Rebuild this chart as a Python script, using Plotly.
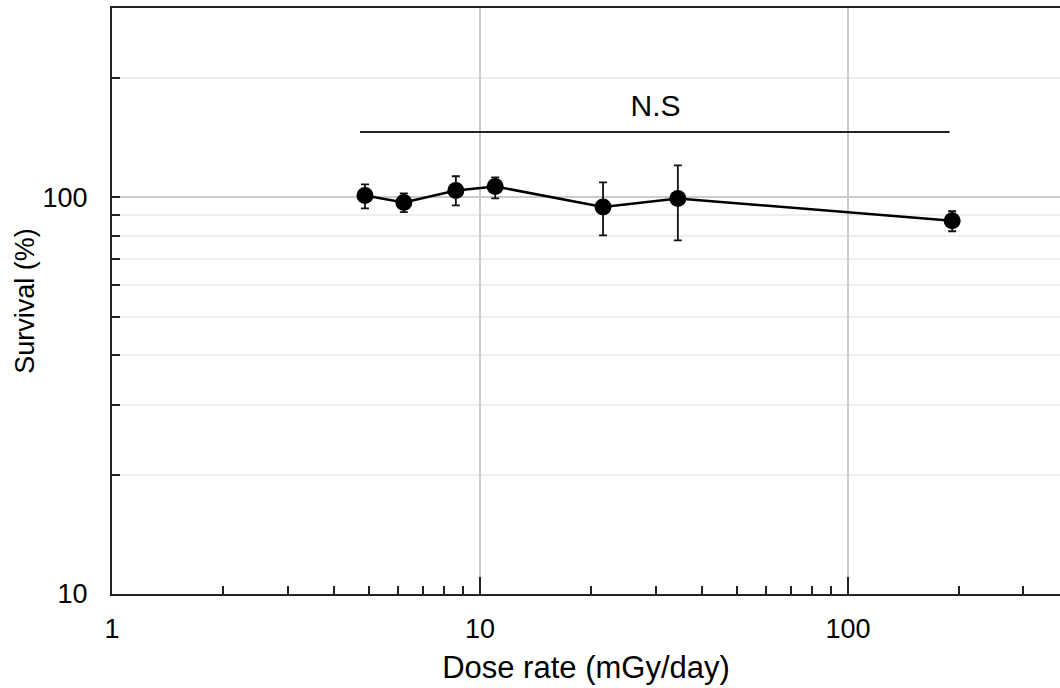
import numpy as np
import plotly.graph_objects as go

dose_rate = [4.87, 6.21, 8.6, 11.0, 21.6, 34.5, 192]
survival = [101.0, 97.0, 104.0, 106.5, 94.5, 99.3, 87.3]
err_upper = [107.8, 102.3, 113.0, 112.3, 109.0, 120.4, 92.2]
err_lower = [93.8, 91.7, 95.4, 99.4, 80.2, 77.9, 82.1]

ns_x = [4.72, 189]
ns_y = [146, 146]
ns_label = "N.S"
ns_label_x = 30
ns_label_y = 167

plus = [u - s for u, s in zip(err_upper, survival)]
minus = [s - l for s, l in zip(survival, err_lower)]

font_family = "Liberation Sans, Arial, sans-serif"

fig = go.Figure()
fig.add_trace(go.Scatter(
    x=dose_rate, y=survival, mode="lines+markers",
    line=dict(color="black", width=2.5),
    marker=dict(color="black", size=17),
    error_y=dict(type="data", symmetric=False, array=plus, arrayminus=minus,
                 color="#111", thickness=1.8, width=4),
    showlegend=False, hoverinfo="skip",
))
fig.add_trace(go.Scatter(
    x=ns_x, y=ns_y, mode="lines", line=dict(color="#222", width=2),
    showlegend=False, hoverinfo="skip",
))
fig.add_trace(go.Scatter(
    x=[ns_label_x], y=[ns_label_y], mode="text", text=[ns_label],
    textfont=dict(family=font_family, size=30, color="black"),
    showlegend=False, hoverinfo="skip",
))

fig.update_layout(
    width=1060, height=688,
    margin=dict(l=112, r=0, t=8, b=94),
    paper_bgcolor="white", plot_bgcolor="white",
    font=dict(family=font_family, color="black"),
    xaxis=dict(
        type="log", range=[0, np.log10(377)], automargin=False,
        tickvals=[1, 10, 100], ticktext=["1", "10", "100"],
        ticks="inside", ticklen=17, tickwidth=2, tickcolor="#222",
        showline=True, linecolor="#222", linewidth=2, mirror=True,
        showgrid=True, gridcolor="#cccccc", gridwidth=1.5,
        zeroline=False, ticklabelstandoff=10,
        tickfont=dict(size=27),
        title=dict(text="Dose rate (mGy/day)", font=dict(size=31), standoff=13),
        minor=dict(ticks="inside", ticklen=8, tickwidth=2, tickcolor="#222",
                   showgrid=False,
                   tickvals=[2, 3, 4, 5, 6, 7, 8, 9, 20, 30, 40, 50, 60, 70, 80, 90, 200, 300]),
    ),
    yaxis=dict(
        type="log", range=[1, np.log10(300)], automargin=False,
        tickvals=[10, 100], ticktext=["10", "100"],
        ticks="inside", ticklen=8, tickwidth=2, tickcolor="#222",
        showline=True, linecolor="#222", linewidth=2,
        showgrid=True, gridcolor="#cccccc", gridwidth=1.5,
        zeroline=False, ticklabelstandoff=17,
        tickfont=dict(size=27),
        title=dict(text="Survival (%)", font=dict(size=27), standoff=0),
        minor=dict(ticks="inside", ticklen=8, tickwidth=2, tickcolor="#222",
                   showgrid=True, gridcolor="#eeeeee", gridwidth=1.5,
                   tickvals=[20, 30, 40, 50, 60, 70, 80, 90, 200]),
    ),
)

fig.write_html("out.html", config={"displayModeBar": False},
               post_script="document.body.style.margin='0';document.body.style.overflow='hidden';")
